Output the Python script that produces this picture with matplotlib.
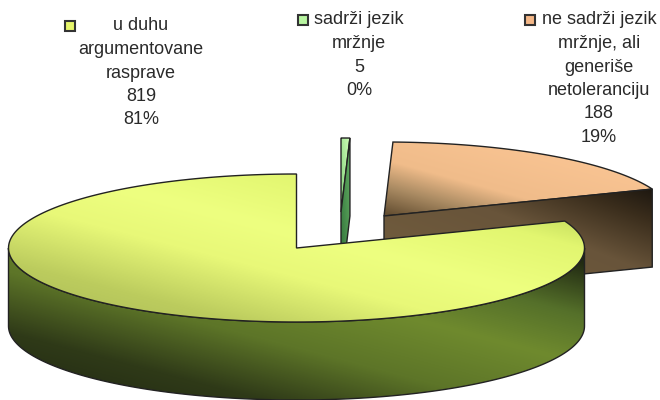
import numpy as np
from matplotlib import pyplot as plt
from matplotlib.colors import LinearSegmentedColormap
from matplotlib.patches import Polygon, Rectangle

# data
categories = ["u duhu\nargumentovane\nrasprave", "sadrži jezik\nmržnje", "ne sadrži jezik\nmržnje, ali\ngeneriše\nnetoleranciju"]
values = [819, 5, 188]
percents = ["81%", "0%", "19%"]

plt.rcParams["font.family"] = ["Liberation Sans", "DejaVu Sans"]

RX, RY, DEPTH = 288, 74, 78
EDGE = "#222222"

fig = plt.figure(figsize=(6.6, 4.0), dpi=100)
ax = fig.add_axes([0, 0, 1, 1])


def rim(center, a0, a1, dy=0):
    # angles are clockwise from 12 o'clock, like the pie is drawn
    a = np.radians(np.linspace(a0, a1, 200))
    return np.column_stack([center[0] + RX * np.sin(a), center[1] + dy - RY * np.cos(a)])


def shade(points, stops, zorder):
    # polygon filled with a diagonal gradient, lower left to upper right
    patch = Polygon(points, closed=True, facecolor="none", edgecolor=EDGE, linewidth=1.0, zorder=zorder + 0.5)
    ax.add_patch(patch)
    x0, y0 = points.min(axis=0)
    x1, y1 = points.max(axis=0)
    u, v = np.meshgrid(np.linspace(0, 1, 200), np.linspace(0, 1, 200))
    cmap = LinearSegmentedColormap.from_list("g", stops)
    im = ax.imshow((u + 1 - v) / 2, extent=(x0, x1, y0, y1), origin="lower", cmap=cmap, vmin=0, vmax=1,
                   aspect="auto", interpolation="bilinear", zorder=zorder)
    im.set_clip_path(patch)


total = sum(values)
green_end = 360 * values[1] / total
orange_end = green_end + 360 * values[2] / total

center_yellow = (296.5, 248)
center_green = (341, 212)
center_orange = (384, 216)

# orange slice, pulled out: top face and the cut face towards the viewer
top = np.vstack([center_orange, rim(center_orange, green_end, orange_end)])
shade(top, [(0, "#5f4a2e"), (0.2, "#a98a62"), (0.38, "#f0bc8a"), (1, "#ffc998")], 1)
end = rim(center_orange, orange_end, orange_end)[0]
cut = np.array([center_orange, end, end + (0, DEPTH), (center_orange[0], center_orange[1] + DEPTH)])
shade(cut, [(0, "#75603f"), (0.6, "#68543a"), (0.85, "#3a2d1c"), (1, "#1e1810")], 2)

# green sliver
top = np.vstack([center_green, rim(center_green, 0, green_end)])
shade(top, [(0, "#7fcf78"), (1, "#d0ffb8")], 3)
end = rim(center_green, green_end, green_end)[0]
cut = np.array([center_green, end, end + (0, DEPTH), (center_green[0], center_green[1] + DEPTH)])
shade(cut, [(0, "#2f7038"), (1, "#62ad62")], 4)

# yellow slice, wall first then the top face
wall = np.vstack([rim(center_yellow, 90, 270), rim(center_yellow, 270, 90, DEPTH)])
shade(wall, [(0, "#1f2612"), (0.22, "#2f3a18"), (0.42, "#5d7528"), (0.62, "#6f8a2e"), (0.78, "#55702a"), (0.95, "#232c13"), (1, "#1c2410")], 5)
top = np.vstack([center_yellow, rim(center_yellow, orange_end, 360)])
shade(top, [(0, "#a8b856"), (0.2, "#bccc5e"), (0.4, "#e8f878"), (0.55, "#eeff80"), (0.75, "#e2f670"), (0.92, "#b0cc52"), (1, "#a4c44c")], 6)

# labels with their legend keys
label_x = [141, 359, 599]
label_y = [26, 20, 20]
key_x = [65, 298, 525]
key_color = ["#e6f56a", "#b8f5a0", "#f5b888"]
for i in range(len(values)):
    lines = categories[i].split("\n") + [str(values[i]), percents[i]]
    for j, line in enumerate(lines):
        ax.text(label_x[i], label_y[i] + j * 23.5, line, ha="center", va="center",
                fontsize=13, color="#2a2a2a", zorder=10)
    ax.add_patch(Rectangle((key_x[i], label_y[i] - 5), 10, 10, facecolor=key_color[i],
                           edgecolor="#333333", linewidth=1.5, zorder=10))

ax.set_xlim(0, 660)
ax.set_ylim(400, 0)
ax.axis("off")

plt.savefig("out.png", dpi=100)
